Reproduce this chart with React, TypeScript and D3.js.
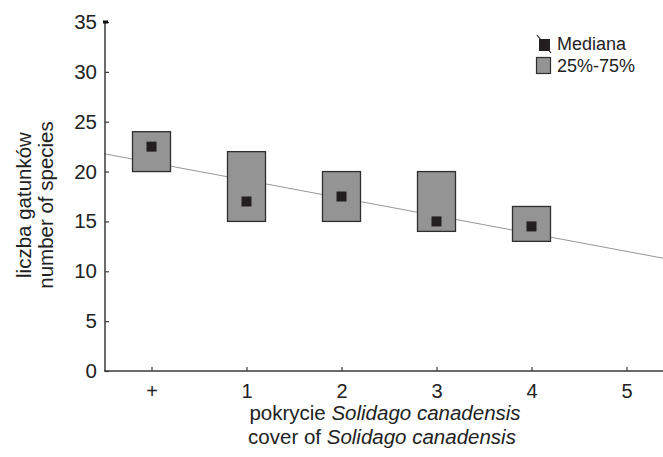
import React, { useEffect, useRef } from "react";
import * as d3 from "d3";

// categories of Solidago cover
const categories = ["+", "1", "2", "3", "4", "5"];
const medians = [22.5, 17, 17.5, 15, 14.5];
const q25 = [20, 15, 15, 14, 13];
const q75 = [24, 22, 20, 20, 16.5];
// regression line (value at "+", slope per class)
const lineIntercept = 20.9;
const lineSlope = -1.78;
const yTicks = [0, 5, 10, 15, 20, 25, 30, 35];

const W = 663;
const H = 457;

const App = () => {
  const svgRef = useRef<SVGSVGElement>(null);

  useEffect(() => {
    const svg = d3.select(svgRef.current);
    svg.selectAll("*").remove();
    const font = "'Liberation Sans', Arial, sans-serif";
    const margin = { top: 22, bottom: 86, left: 105 };

    // ---------- scales
    const x = d3.scaleLinear().domain([-0.5, 5.5]).range([104, 674]);
    const y = d3
      .scaleLinear()
      .domain([0, 35])
      .range([H - margin.bottom, margin.top]);

    // ---------- regression line
    const lx = [-0.5, 5.5];
    svg
      .append("line")
      .attr("x1", x(lx[0]))
      .attr("y1", y(lineIntercept + lineSlope * lx[0]))
      .attr("x2", x(lx[1]))
      .attr("y2", y(lineIntercept + lineSlope * lx[1]))
      .attr("stroke", "#8a8a8a")
      .attr("stroke-width", 0.9);

    // ---------- boxes
    const boxW = 0.4;
    const data = medians.map((m, i) => ({ i, m, lo: q25[i], hi: q75[i] }));
    svg
      .selectAll(".box")
      .data(data)
      .join("rect")
      .attr("class", "box")
      .attr("x", d => x(d.i - boxW / 2))
      .attr("width", x(boxW) - x(0))
      .attr("y", d => y(d.hi))
      .attr("height", d => y(d.lo) - y(d.hi))
      .attr("fill", "#949494")
      .attr("stroke", "#2e2e2e")
      .attr("stroke-width", 1.3);

    svg
      .selectAll(".med")
      .data(data)
      .join("rect")
      .attr("class", "med")
      .attr("x", d => x(d.i) - 5)
      .attr("y", d => y(d.m) - 5)
      .attr("width", 10)
      .attr("height", 10)
      .attr("fill", "#231f20");

    // ---------- axes
    const axisColor = "#3a3a3a";
    const yAxis = svg
      .append("g")
      .attr("transform", `translate(${margin.left},0)`)
      .call(
        d3
          .axisRight(y)
          .tickValues(yTicks)
          .tickSize(4)
          .tickFormat(d3.format("d"))
      );
    yAxis.select(".domain").attr("stroke", axisColor).attr("stroke-width", 1.5).attr("d", `M0,${y(0)}V${y(35)}`);
    yAxis.selectAll(".tick line").attr("stroke", axisColor).attr("stroke-width", 1.2);
    yAxis
      .selectAll(".tick text")
      .attr("x", -8)
      .attr("text-anchor", "end")
      .attr("font-family", font)
      .attr("font-size", 20.5)
      .attr("fill", "#222");
    svg
      .append("rect")
      .attr("x", margin.left - 2)
      .attr("y", y(35) - 1.5)
      .attr("width", 5)
      .attr("height", 3)
      .attr("fill", "#111");

    const xAxis = svg
      .append("g")
      .attr("transform", `translate(0,${y(0)})`)
      .call(
        d3
          .axisTop(x)
          .tickValues(d3.range(categories.length))
          .tickSize(4)
          .tickFormat(i => categories[+i])
      );
    xAxis.select(".domain").attr("stroke", axisColor).attr("stroke-width", 1.5).attr("d", `M${x(-0.5)},0H${W}`);
    xAxis.selectAll(".tick line").attr("stroke", axisColor).attr("stroke-width", 1.2);
    xAxis
      .selectAll(".tick text")
      .attr("y", 27)
      .attr("font-family", font)
      .attr("font-size", 20)
      .attr("fill", "#222");

    // ---------- axis titles
    const yTitle = svg
      .append("text")
      .attr("transform", `translate(31,205) rotate(-90)`)
      .attr("text-anchor", "middle")
      .attr("font-family", font)
      .attr("font-size", 20.5)
      .attr("fill", "#222");
    yTitle.append("tspan").attr("x", 0).attr("y", 0).text("liczba gatunków");
    yTitle.append("tspan").attr("x", 0).attr("y", 21.5).text("number of species");

    const xTitle = svg
      .append("text")
      .attr("text-anchor", "middle")
      .attr("font-family", font)
      .attr("font-size", 20.5)
      .attr("fill", "#222");
    const l1 = xTitle.append("tspan").attr("x", 385).attr("y", 420);
    l1.append("tspan").text("pokrycie ");
    l1.append("tspan").attr("font-style", "italic").text("Solidago canadensis");
    const l2 = xTitle.append("tspan").attr("x", 382).attr("y", 444);
    l2.append("tspan").text("cover of ");
    l2.append("tspan").attr("font-style", "italic").text("Solidago canadensis");

    // ---------- legend
    const leg = svg.append("g").attr("transform", "translate(536,35)");
    leg.append("rect").attr("x", 3).attr("y", 4).attr("width", 11).attr("height", 12).attr("fill", "#231f20");
    leg.append("line").attr("x1", 1).attr("y1", 0).attr("x2", 15).attr("y2", 18).attr("stroke", "#231f20").attr("stroke-width", 1.2);
    leg
      .append("text")
      .attr("x", 21)
      .attr("y", 15)
      .attr("font-family", font)
      .attr("font-size", 18)
      .attr("fill", "#222")
      .text("Mediana");
    leg
      .append("rect")
      .attr("x", 0.5)
      .attr("y", 22.5)
      .attr("width", 14)
      .attr("height", 16)
      .attr("fill", "#949494")
      .attr("stroke", "#2e2e2e")
      .attr("stroke-width", 1.2);
    leg
      .append("text")
      .attr("x", 21)
      .attr("y", 37)
      .attr("font-family", font)
      .attr("font-size", 18)
      .attr("fill", "#222")
      .text("25%-75%");
  }, []);

  return (
    <svg
      ref={svgRef}
      width={W}
      height={H}
      style={{ position: "absolute", left: 0, top: 0, background: "#fff" }}
    />
  );
};

export default App;
